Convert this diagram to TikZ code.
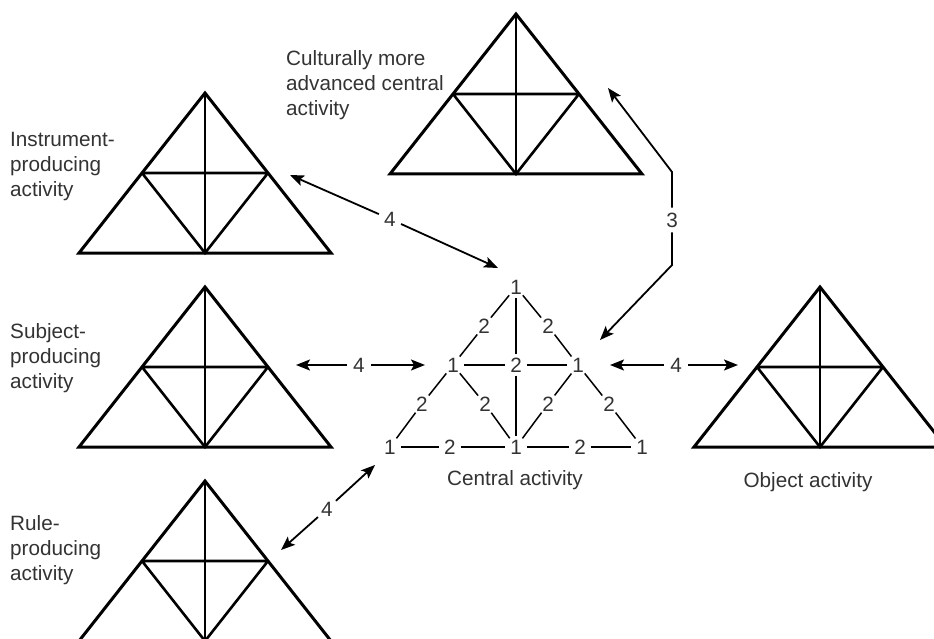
\documentclass[tikz,border=0pt]{standalone}
\usepackage{fontspec}
\setmainfont{Liberation Sans}
\usetikzlibrary{arrows.meta}
\tikzset{
  tvline/.style={line width=2.6pt},
  actri/.pic={
    \draw[line width=3pt] (0,0) -- (-126,160) -- (126,160) -- cycle;
    \draw[line width=2.6pt] (-63,80) -- (63,80) (-63,80) -- (0,160) -- (63,80);
    \draw[tvline] (0,0) -- (0,160);
  },
  txt/.style={font=\fontsize{20.7}{25}\selectfont, text=black!80, inner sep=0pt},
  blk/.style={txt, align=left, anchor=west},
  cn/.style={txt, circle, inner sep=1pt},
  al/.style={txt, circle, inner sep=2pt},
  cline/.style={line width=1.5pt},
  arr/.style={line width=1.8pt, -{Stealth[length=14pt,width=11pt,inset=3pt]}}
}
\begin{document}
\begin{tikzpicture}[x=1pt,y=-1pt]
\useasboundingbox (0,0) rectangle (934,639);
\clip (0,0) rectangle (934,639);
\fill[white] (0,0) rectangle (934,639);

% outer activity triangles
\pic at (516,14) {actri};
\pic at (205,93) {actri};
\pic at (205,287) {actri};
\pic[tvline/.style={line width=1.3pt}] at (205,481) {actri};
\pic at (820,287) {actri};

% text labels
\node[blk] (tcult) at (286,85) {Culturally more\\advanced central\\activity};
\node[blk] (tinst) at (10,167) {Instrument-\\producing\\activity};
\node[blk] (tsubj) at (10,358) {Subject-\\producing\\activity};
\node[blk] (trule) at (10,550) {Rule-\\producing\\activity};
\node[txt] (tcent) at (515,480) {Central activity};
\node[txt] (tobj) at (808,482) {Object activity};

% central activity
\node[cn] (ct) at (516,287) {1};
\node[cn] (cl) at (453,365) {1};
\node[cn] (cc) at (516,365) {2};
\node[cn] (cr) at (578,365) {1};
\node[cn] (bl) at (390,447) {1};
\node[cn] (bc) at (516,447) {1};
\node[cn] (br) at (642,447) {1};
\node[cn] (e1) at (484,326) {2};
\node[cn] (e2) at (548,326) {2};
\node[cn] (e3) at (422,404) {2};
\node[cn] (e4) at (485,404) {2};
\node[cn] (e5) at (548,404) {2};
\node[cn] (e6) at (609,404) {2};
\node[cn] (e7) at (450,447) {2};
\node[cn] (e8) at (580,447) {2};

\draw[cline] (ct) -- (e1) -- (cl);
\draw[cline] (ct) -- (e2) -- (cr);
\draw[cline] (ct) -- (cc) -- (bc);
\draw[cline] (cl) -- (cc) -- (cr);
\draw[cline] (cl) -- (e3) -- (bl);
\draw[cline] (cl) -- (e4) -- (bc);
\draw[cline] (cr) -- (e5) -- (bc);
\draw[cline] (cr) -- (e6) -- (br);
\draw[cline] (bl) -- (e7) -- (bc) -- (e8) -- (br);

% arrows labelled 4
\coordinate (ia) at (290,175);
\coordinate (ib) at (498,268);
\node[al] (i4) at (390,219) {4};
\draw[arr] (i4) -- (ia);
\draw[arr] (i4) -- (ib);

\coordinate (sa) at (296,365);
\coordinate (sb) at (425,365);
\node[al] (s4) at (359,365) {4};
\draw[arr] (s4) -- (sa);
\draw[arr] (s4) -- (sb);

\coordinate (oa) at (610,365);
\coordinate (ob) at (738,365);
\node[al] (o4) at (676,365) {4};
\draw[arr] (o4) -- (oa);
\draw[arr] (o4) -- (ob);

\coordinate (ra) at (281,550);
\coordinate (rb) at (375,465);
\node[al] (r4) at (327,509) {4};
\draw[arr] (r4) -- (ra);
\draw[arr] (r4) -- (rb);

% arrow labelled 3
\node[al] (n3) at (672,220) {3};
\coordinate (p3u) at (672,172);
\coordinate (t3u) at (608,88);
\coordinate (p3d) at (672,265);
\coordinate (t3d) at (600,340);
\draw[arr] (n3) -- (p3u) -- (t3u);
\draw[arr] (n3) -- (p3d) -- (t3d);
\end{tikzpicture}
\end{document}
